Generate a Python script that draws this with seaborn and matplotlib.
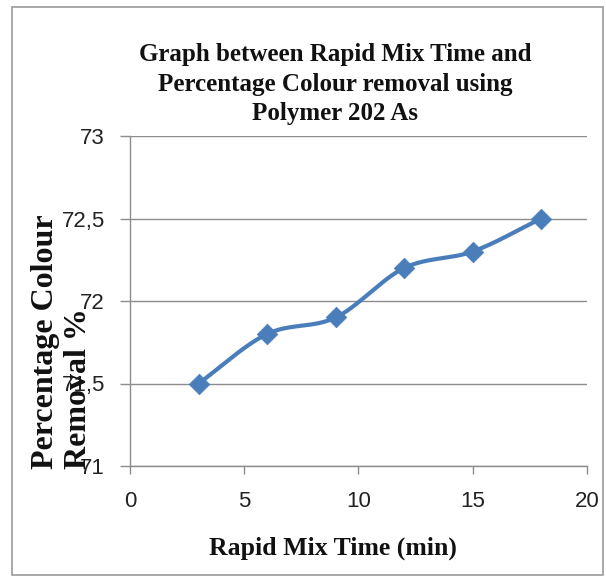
import numpy as np
import matplotlib
matplotlib.use("Agg")
import matplotlib.pyplot as plt
import seaborn as sns
import pandas as pd
from matplotlib.patches import Rectangle

# Data
mix_time = [3, 6, 9, 12, 15, 18]
colour_removal = [71.5, 71.8, 71.9, 72.2, 72.3, 72.5]
x_ticks = [0, 5, 10, 15, 20]
y_ticks = [71, 71.5, 72, 72.5, 73]
y_tick_labels = ["71", "71,5", "72", "72,5", "73"]

title = "Graph between Rapid Mix Time and\nPercentage Colour removal using\nPolymer 202 As"
xlabel = "Rapid Mix Time (min)"
ylabel = "Percentage Colour\nRemoval %"

sns.set_theme(style="white")
plt.rcParams['font.family'] = ['Liberation Sans', 'DejaVu Sans']

line_color = "#4A7EBB"
grid_color = "#8C8C8C"

fig = plt.figure(figsize=(6.06, 5.77), dpi=100)
ax = fig.add_axes([130/606, 1-466/577, (587-130)/606, (466-136)/577])

df = pd.DataFrame({"t": mix_time, "r": colour_removal})

# Smoothed (Catmull-Rom) curve through the data points, like Excel's smoothed line
def catmull_rom(xs, ys, n=30):
    P = np.column_stack([xs, ys]).astype(float)
    P = np.vstack([P[0] - (P[1] - P[0]), P, P[-1] + (P[-1] - P[-2])])
    out = []
    for i in range(1, len(P) - 2):
        p0, p1, p2, p3 = P[i-1], P[i], P[i+1], P[i+2]
        t = np.linspace(0, 1, n)[:, None]
        pts = 0.5 * ((2*p1) + (-p0 + p2)*t + (2*p0 - 5*p1 + 4*p2 - p3)*t**2 + (-p0 + 3*p1 - 3*p2 + p3)*t**3)
        out.append(pts if i == len(P) - 3 else pts[:-1])
    out = np.vstack(out)
    return out[:, 0], out[:, 1]

sx, sy = catmull_rom(df["t"].values, df["r"].values)
smooth = pd.DataFrame({"t": sx, "r": sy})
sns.lineplot(data=smooth, x="t", y="r", ax=ax, color=line_color, linewidth=3, sort=False, zorder=3)
sns.scatterplot(data=df, x="t", y="r", ax=ax, marker="D", s=110, color=line_color,
                edgecolor=line_color, linewidth=0.5, zorder=4)

ax.set_xlim(0, 20)
ax.set_ylim(71, 73)
ax.set_xticks(x_ticks)
ax.set_yticks(y_ticks)
ax.set_yticklabels(y_tick_labels)
ax.set_xlabel("")
ax.set_ylabel("")

ax.yaxis.grid(True, color=grid_color, linewidth=1)
ax.xaxis.grid(False)
for s in ["top", "right"]:
    ax.spines[s].set_visible(False)
for s in ["left", "bottom"]:
    ax.spines[s].set_color(grid_color)
    ax.spines[s].set_linewidth(1)

ax.tick_params(axis="y", which="major", direction="out", length=7, width=1, color=grid_color,
               pad=11, labelsize=16, labelcolor="#222222", left=True)
ax.tick_params(axis="x", which="major", direction="out", length=6, width=1, color=grid_color,
               pad=12, labelsize=16, labelcolor="#222222", bottom=True)

serif = ['Liberation Serif', 'DejaVu Serif']
fig.text(335/606, 1-84/577, title, ha="center", va="center", fontsize=18,
         fontweight="bold", family=serif, linespacing=1.35, color="#111111")
fig.text(333/606, 1-548/577, xlabel, ha="center", va="center", fontsize=18.5,
         fontweight="bold", family=serif, color="#111111")
fig.text(62/606, 1-342/577, ylabel, ha="center", va="center", rotation=90, fontsize=23,
         fontweight="bold", family=serif, multialignment="left", linespacing=1.2, color="#111111")

# outer chart frame
fig.patches.append(Rectangle((12/606, 1-575/577), (603-12)/606, (575-7)/577,
                             transform=fig.transFigure, fill=False, edgecolor="#9A9A9A",
                             linewidth=1.2))

fig.savefig("out.png", dpi=100)
